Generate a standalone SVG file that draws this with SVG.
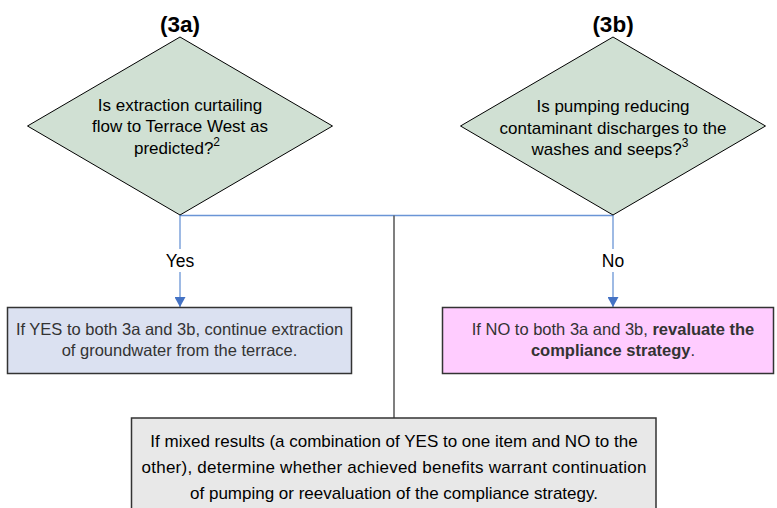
<svg xmlns="http://www.w3.org/2000/svg" width="777" height="508" viewBox="0 0 777 508">
<style>
text{font-family:"Liberation Sans",Arial,sans-serif;}
.dia{fill:#d0e0d3;stroke:#000;stroke-width:1;}
.t{font-size:17px;fill:#000;text-anchor:middle;}
.title{font-size:22.5px;font-weight:bold;fill:#000;text-anchor:middle;}
.bt{font-size:16.5px;fill:#333;text-anchor:middle;}
.mt{font-size:17px;fill:#000;text-anchor:middle;}
.box{stroke:#333;stroke-width:1.5;}
.blue{stroke:#6a95d6;stroke-width:1.3;fill:none;}
.gray{stroke:#555;stroke-width:1.5;fill:none;}
.lbl{font-size:17.5px;fill:#000;text-anchor:middle;}
</style>
<defs>
<marker id="arr" viewBox="0 0 10 11" refX="10" refY="5.5" markerWidth="10" markerHeight="11" markerUnits="userSpaceOnUse" orient="auto">
<path d="M0,0 L10,5.5 L0,11 z" fill="#4472c4"/>
</marker>
</defs>
<rect width="777" height="508" fill="#fff"/>
<g id="connectors">
<line class="blue" x1="180" y1="215.5" x2="613" y2="215.5"/>
<line class="gray" x1="394" y1="215.5" x2="394" y2="418"/>
<line class="blue" x1="180" y1="215" x2="180" y2="249"/>
<line class="blue" x1="180" y1="272" x2="180" y2="307" marker-end="url(#arr)"/>
<line class="blue" x1="613" y1="215" x2="613" y2="249"/>
<line class="blue" x1="613" y1="272" x2="613" y2="307" marker-end="url(#arr)"/>
<text class="lbl" x="180" y="267">Yes</text>
<text class="lbl" x="613" y="267">No</text>
</g>
<g id="node3a">
<text class="title" x="180" y="32">(3a)</text>
<polygon class="dia" points="180,37 332.5,126 180,215 27.5,126"/>
<text class="t" x="180" y="110.5">Is extraction curtailing</text>
<text class="t" x="180" y="132">flow to Terrace West as</text>
<text class="t" x="177" y="153.5">predicted?<tspan font-size="12" dy="-8">2</tspan></text>
</g>
<g id="node3b">
<text class="title" x="613" y="32">(3b)</text>
<polygon class="dia" points="613,37 765.5,126 613,215 460.5,126"/>
<text class="t" x="613" y="112">Is pumping reducing</text>
<text class="t" x="613" y="133.5">contaminant discharges to the</text>
<text class="t" x="610" y="155">washes and seeps?<tspan font-size="12" dy="-8">3</tspan></text>
</g>
<g id="yesbox">
<rect class="box" x="7.5" y="307.5" width="344" height="66" fill="#dbe1f1"/>
<text class="bt" x="179.5" y="335">If YES to both 3a and 3b, continue extraction</text>
<text class="bt" x="179.5" y="356">of groundwater from the terrace.</text>
</g>
<g id="nobox">
<rect class="box" x="442.5" y="307.5" width="331" height="66" fill="#ffccff"/>
<text class="bt" x="613" y="335">If NO to both 3a and 3b, <tspan font-weight="bold">revaluate the</tspan></text>
<text class="bt" x="613" y="356"><tspan font-weight="bold">compliance strategy</tspan>.</text>
</g>
<g id="mixedbox">
<rect class="box" x="131.5" y="418" width="524.5" height="100" fill="#e8e8e8"/>
<text class="mt" x="394" y="447">If mixed results (a combination of YES to one item and NO to the</text>
<text class="mt" x="394" y="473" textLength="505" lengthAdjust="spacing">other), determine whether achieved benefits warrant continuation</text>
<text class="mt" x="394" y="499">of pumping or reevaluation of the compliance strategy.</text>
</g>
</svg>
